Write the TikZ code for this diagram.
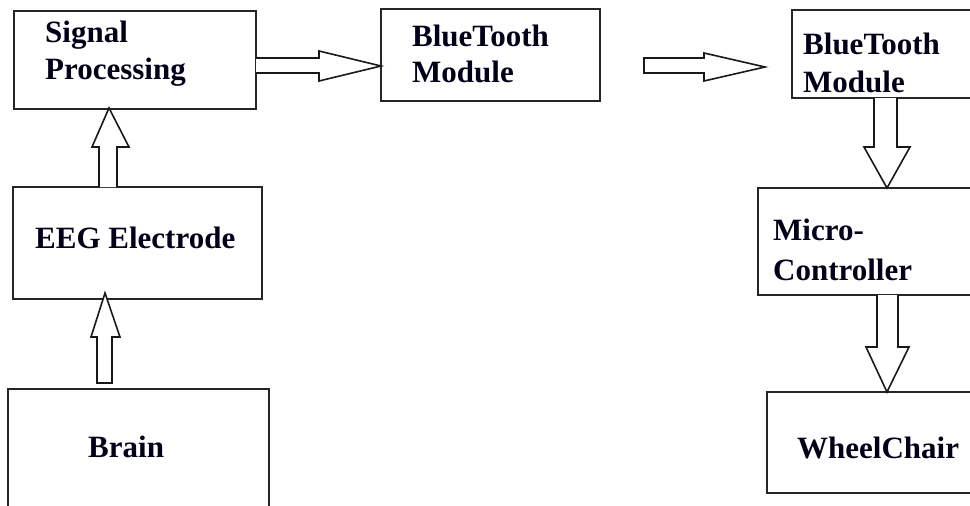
\documentclass[tikz,border=0pt]{standalone}
\usepackage{fontspec}
\setmainfont{Liberation Serif}
\begin{document}
\begin{tikzpicture}[x=1pt,y=-1pt,
  box/.style={draw=black!85,line width=1.6pt,rectangle,inner sep=0pt},
  lbl/.style={anchor=base west,inner sep=0pt,font=\fontsize{31}{36}\selectfont\bfseries,text=black!90!blue},
  barrow/.style={draw=black!90,line width=1.6pt,fill=white,line join=miter}]
\useasboundingbox (0,0) rectangle (970,506);
\clip (0,0) rectangle (970,506);
% boxes
\node[box,minimum width=242pt,minimum height=98pt]  (sp)    at (135,60) {};
\node[box,minimum width=219pt,minimum height=92pt]  (bt1)   at (490.5,55) {};
\node[box,minimum width=190pt,minimum height=88pt]  (bt2)   at (887,54) {};
\node[box,minimum width=224pt,minimum height=107pt] (mc)    at (870,241.5) {};
\node[box,minimum width=215pt,minimum height=101pt] (wc)    at (874.5,442.5) {};
\node[box,minimum width=249pt,minimum height=112pt] (eeg)   at (137.5,243) {};
\node[box,minimum width=261pt,minimum height=131pt] (brain) at (138.5,454.5) {};
% labels
\node[lbl] (tsp1) at (45,42) {Signal};
\node[lbl] (tsp2) at (45,79) {Processing};
\node[lbl] (tbt1a) at (412,46) {BlueTooth};
\node[lbl] (tbt1b) at (412,82) {Module};
\node[lbl] (tbt2a) at (803,54) {BlueTooth};
\node[lbl] (tbt2b) at (803,92) {Module};
\node[lbl] (tmc1) at (773,240) {Micro-};
\node[lbl] (tmc2) at (773,280) {Controller};
\node[lbl] (twc) at (797,458) {WheelChair};
\node[lbl] (teeg) at (35,248) {EEG Electrode};
\node[lbl] (tbr) at (88,457) {Brain};
% block arrows
\draw[barrow] (256,58) -- (319,58) -- (319,51) -- (381,66) -- (319,81) -- (319,73) -- (256,73);
\draw[barrow] (644,58) -- (704,58) -- (704,53) -- (765,67) -- (704,81) -- (704,73) -- (644,73) -- cycle;
\draw[barrow] (874,98) -- (874,147) -- (864,147) -- (887,188) -- (910,147) -- (897,147) -- (897,98);
\draw[barrow] (877,295) -- (877,347) -- (866,347) -- (887,392) -- (909,347) -- (898,347) -- (898,295);
\draw[barrow] (99,187) -- (99,147) -- (92,147) -- (109,108) -- (129,147) -- (117,147) -- (117,187);
\draw[barrow] (97,383) -- (97,337) -- (91,337) -- (105,293) -- (120,337) -- (112,337) -- (112,383) -- cycle;
\end{tikzpicture}
\end{document}
